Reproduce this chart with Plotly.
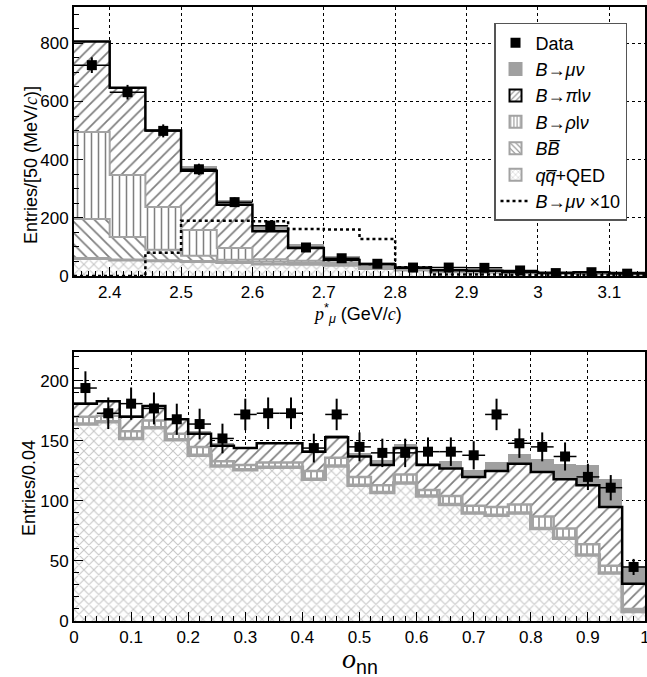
import numpy as np
import plotly.graph_objects as go
from plotly.subplots import make_subplots

# ---------------- top panel: p*_mu ----------------
p_centers = [2.375, 2.425, 2.475, 2.525, 2.575, 2.625, 2.675, 2.725,
             2.775, 2.825, 2.875, 2.925, 2.975, 3.025, 3.075, 3.125]
p_binw = 0.05
p_data = [725, 632, 499, 367, 254, 173, 98, 61, 42, 29, 29, 28, 19, 10, 13, 8]
p_qq = [60, 55, 52, 50, 46, 41, 40, 37, 26, 21, 15, 13, 11, 9, 9, 7]
p_bb = [136, 79, 38, 20, 10, 9, 6, 4, 3, 2, 1, 1, 1, 1, 1, 1]
p_rho = [299, 213, 147, 88, 40, 8, 6, 4, 3, 2, 1, 1, 1, 0, 1, 0]
p_pi = [311, 300, 263, 204, 149, 96, 44, 10, 8, 3, 3, 3, 1, 1, 2, 2]
p_munu = [2, 2, 6, 15, 17, 22, 15, 14, 8, 4, 3, 3, 2, 1, 2, 2]
p_munu10 = [0, 0, 80, 190, 190, 188, 162, 160, 127, 30, 5, 5, 3, 3, 3, 3]
p_xticks = [2.4, 2.5, 2.6, 2.7, 2.8, 2.9, 3.0, 3.1]
p_xticklabels = ["2.4", "2.5", "2.6", "2.7", "2.8", "2.9", "3", "3.1"]

# ---------------- bottom panel: o_nn ----------------
o_centers = [0.02, 0.06, 0.10, 0.14, 0.18, 0.22, 0.26, 0.30, 0.34, 0.38,
             0.42, 0.46, 0.50, 0.54, 0.58, 0.62, 0.66, 0.70, 0.74, 0.78,
             0.82, 0.86, 0.90, 0.94, 0.98]
o_binw = 0.04
o_data = [194, 173, 181, 177, 168, 164, 152, 172, 173, 173, 144, 172, 145,
          140, 140, 141, 141, 138, 172, 148, 145, 137, 120, 111, 45]
o_qq = [164, 166, 152, 161, 151, 138, 129, 126, 128, 128, 118, 129, 113,
        107, 115, 104, 97, 90, 88, 90, 77, 69, 55, 40, 8]
o_rho = [6, 5, 6, 6, 5, 7, 4, 4, 4, 4, 7, 7, 7, 6, 7, 5, 7, 6, 7, 7, 10, 8, 9, 6, 2]
o_pi = [11, 12, 12, 12, 12, 11, 13, 14, 16, 16, 16, 17, 17, 17, 22, 21, 23,
        24, 30, 34, 37, 41, 49, 49, 21]
o_munu = [1, 1, 1, 1, 1, 2, 2, 1, 1, 1, 1, 2, 3, 4, 3, 1, 6, 6, 7, 8, 11,
          13, 17, 23, 14]
o_xticks = [0, 0.1, 0.2, 0.3, 0.4, 0.5, 0.6, 0.7, 0.8, 0.9, 1.0]
o_xticklabels = ["0", "0.1", "0.2", "0.3", "0.4", "0.5", "0.6", "0.7", "0.8", "0.9", "1"]

FONT = "Liberation Sans, Arial, Helvetica, sans-serif"
GRAY_LINE = "#a3a3a3"
GRAY_FILL = "#a0a0a0"
XHATCH = "#8e8e8e"

fig = make_subplots(rows=2, cols=1)


def edges_of(centers, bw):
    c = np.asarray(centers, dtype=float)
    return np.append(c - bw / 2, c[-1] + bw / 2)


def step_trace(centers, bw, vals, color, width, row, dash="solid", name=None, showlegend=False, rank=None):
    x = edges_of(centers, bw)
    y = list(vals) + [vals[-1]]
    tr = go.Scatter(x=x, y=y, mode="lines", line=dict(color=color, width=width, shape="hv", dash=dash),
                    showlegend=showlegend, name=name, hoverinfo="skip")
    if rank is not None:
        tr.legendrank = rank
    fig.add_trace(tr, row=row, col=1)


def bar(centers, bw, vals, row, shape=None, fg="black", size=8, solidity=0.2, color="white"):
    marker = dict(color=color, line=dict(width=0))
    if shape:
        marker["pattern"] = dict(shape=shape, fgcolor=fg, bgcolor="white", size=size, solidity=solidity)
    fig.add_trace(go.Bar(x=centers, y=vals, width=bw, marker=marker, showlegend=False,
                         hoverinfo="skip"), row=row, col=1)


# --- top panel stacked components ---
bar(p_centers, p_binw, p_qq, 1, shape="x", fg=XHATCH, size=7, solidity=0.28)
bar(p_centers, p_binw, p_bb, 1, shape="\\", fg="black", size=8, solidity=0.22)
bar(p_centers, p_binw, p_rho, 1, shape="|", fg="black", size=7, solidity=0.22)
bar(p_centers, p_binw, p_pi, 1, shape="/", fg="black", size=8, solidity=0.22)
bar(p_centers, p_binw, p_munu, 1, color=GRAY_FILL)

pc1 = np.cumsum([p_qq, p_bb, p_rho, p_pi], axis=0)
step_trace(p_centers, p_binw, pc1[0], GRAY_LINE, 3, 1)
step_trace(p_centers, p_binw, pc1[1], GRAY_LINE, 2, 1)
step_trace(p_centers, p_binw, pc1[2], GRAY_LINE, 2, 1)
step_trace(p_centers, p_binw, pc1[3], "black", 2.5, 1)
step_trace(p_centers, p_binw, p_munu10, "black", 2.5, 1, dash="dot",
           name="<i>B</i>→<i>μν</i> ×10", showlegend=True, rank=7)

fig.add_trace(go.Scatter(
    x=p_centers, y=p_data, mode="markers",
    marker=dict(symbol="square", size=10, color="black"),
    error_y=dict(type="data", array=list(np.sqrt(p_data)), thickness=2, width=0, color="black"),
    error_x=dict(type="data", array=[p_binw / 2] * len(p_centers), thickness=1.5, width=0, color="black"),
    name="Data", showlegend=True, legendrank=1, hoverinfo="skip"), row=1, col=1)

# --- bottom panel stacked components ---
bar(o_centers, o_binw, o_qq, 2, shape="x", fg=XHATCH, size=7, solidity=0.28)
bar(o_centers, o_binw, o_rho, 2, shape="|", fg="black", size=6, solidity=0.24)
bar(o_centers, o_binw, o_pi, 2, shape="/", fg="black", size=8, solidity=0.22)
bar(o_centers, o_binw, o_munu, 2, color=GRAY_FILL)

oc = np.cumsum([o_qq, o_rho, o_pi], axis=0)
step_trace(o_centers, o_binw, oc[0], GRAY_LINE, 3.5, 2)
step_trace(o_centers, o_binw, oc[1], GRAY_LINE, 2.5, 2)
step_trace(o_centers, o_binw, oc[2], "black", 2.5, 2)

fig.add_trace(go.Scatter(
    x=o_centers, y=o_data, mode="markers",
    marker=dict(symbol="square", size=10, color="black"),
    error_y=dict(type="data", array=list(np.sqrt(o_data)), thickness=2, width=0, color="black"),
    error_x=dict(type="data", array=[o_binw / 2] * len(o_centers), thickness=1.5, width=0, color="black"),
    showlegend=False, hoverinfo="skip"), row=2, col=1)


# --- legend-only entries ---
def leg_bar(name, rank, shape=None, color="white", line_color=GRAY_LINE, size=7, fg="black"):
    marker = dict(color=color, line=dict(color=line_color, width=2))
    if shape:
        marker["pattern"] = dict(shape=shape, fgcolor=fg, bgcolor="white", size=size, solidity=0.25)
    fig.add_trace(go.Bar(x=[None], y=[None], marker=marker, name=name, showlegend=True,
                         legendrank=rank, hoverinfo="skip"), row=1, col=1)


leg_bar("<i>B</i>→<i>μν</i>", 2, color=GRAY_FILL, line_color=GRAY_FILL)
leg_bar("<i>B</i>→<i>π</i>l<i>ν</i>", 3, shape="/", line_color="black", size=5)
leg_bar("<i>B</i>→<i>ρ</i>l<i>ν</i>", 4, shape="|", size=4)
leg_bar("<i>B</i><i>B̅</i>", 5, shape="\\", size=5)
leg_bar("<i>q</i><i>q̅</i>+QED", 6, shape="x", size=5, fg=XHATCH)

axis_common = dict(showline=True, linecolor="black", linewidth=2, mirror=True,
                   ticks="inside", ticklen=9, tickcolor="black", tickwidth=1,
                   showgrid=True, gridcolor="black", gridwidth=1, griddash="dot",
                   zeroline=False, automargin=False, ticklabeloverflow="allow",
                   tickfont=dict(size=17, family=FONT, color="black"))

fig.update_xaxes(**axis_common)
fig.update_yaxes(**axis_common)

fig.update_xaxes(range=[2.35, 3.15], tickvals=p_xticks, ticktext=p_xticklabels,
                 minor=dict(dtick=0.01, tick0=2.35, ticklen=5, ticks="inside", tickcolor="black", showgrid=False),
                 row=1, col=1)
fig.update_yaxes(range=[0, 925], tickvals=[0, 200, 400, 600, 800],
                 minor=dict(dtick=50, tick0=0, ticklen=5, ticks="inside", tickcolor="black", showgrid=False),
                 domain=[0.5619, 1.0], row=1, col=1)

fig.update_xaxes(range=[0, 1], tickvals=o_xticks, ticktext=o_xticklabels,
                 minor=dict(dtick=0.02, tick0=0, ticklen=5, ticks="inside", tickcolor="black", showgrid=False),
                 row=2, col=1)
fig.update_yaxes(range=[0, 224], tickvals=[0, 50, 100, 150, 200],
                 minor=dict(dtick=10, tick0=0, ticklen=5, ticks="inside", tickcolor="black", showgrid=False),
                 domain=[0.0, 0.4381], row=2, col=1)


# axis titles as annotations (paper coords: x 0..1 spans 74..645 px, y 0..1 spans 621..7 px)
def px2paper(px, py):
    return (px - 74) / 571.0, (621 - py) / 614.0


titles = [
    ("<span style='font-family:Liberation Serif'><i>p</i></span><sup>*</sup><sub><i>μ</i></sub> (GeV/<span style='font-family:Liberation Serif'><i>c</i></span>)",
     357, 313, 18, 0),
    ("<span style='font-family:Liberation Serif'><i>o</i></span><sub>nn</sub>", 360, 660, 28, 0),
    ("Entries/[50 (MeV/<span style='font-family:Liberation Serif'><i>c</i></span>)]", 31, 165, 18, -90),
    ("Entries/0.04", 29, 488, 18, -90),
]
for text, px, py, size, ang in titles:
    xp, yp = px2paper(px, py)
    fig.add_annotation(text=text, x=xp, y=yp, xref="paper", yref="paper", showarrow=False,
                       xanchor="center", yanchor="middle", textangle=ang,
                       font=dict(size=size, family=FONT, color="black"))

fig.update_layout(
    width=647, height=677,
    margin=dict(l=74, r=2, t=7, b=56, autoexpand=False),
    paper_bgcolor="white", plot_bgcolor="white",
    barmode="stack", bargap=0,
    font=dict(family=FONT, size=17, color="black"),
    legend=dict(x=0.9685, xanchor="right", y=0.974, yanchor="top",
                bordercolor="#555555", borderwidth=1.5, bgcolor="white",
                font=dict(size=18, family=FONT, color="black"),
                itemwidth=30, tracegroupgap=0, traceorder="normal"),
    showlegend=True,
)

fig.write_html("out.html",
               config={"displayModeBar": False},
               post_script="document.body.style.margin='0';document.body.style.padding='0';"
                           "document.documentElement.style.overflow='hidden';")
